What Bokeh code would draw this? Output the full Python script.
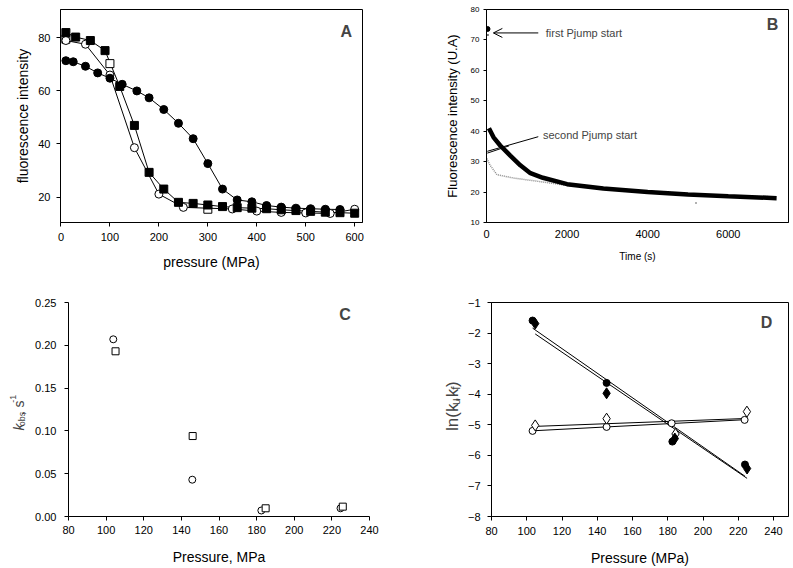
import numpy as np
from bokeh.plotting import figure
from bokeh.layouts import column, row
from bokeh.models import FixedTicker, Label, Arrow, OpenHead, NumeralTickFormatter
from bokeh.embed import file_html
from bokeh.resources import INLINE

FONT = "Liberation Sans"

# ---------------- Panel A data ----------------
a_fsq_x = [10, 30, 60, 90, 120, 150, 180, 210, 240, 270, 300, 330, 360, 390, 420, 450, 480, 510, 540, 570, 600]
a_fsq_y = [82, 80.3, 79, 75.2, 61.7, 47, 29.3, 23, 18, 17.6, 17.0, 16.4, 16.0, 15.8, 15.6, 15.2, 14.9, 14.6, 14.3, 14.1, 13.9]
a_fci_x = [10, 25, 50, 75, 100, 125, 155, 180, 210, 240, 270, 300, 330, 360, 390, 420, 450, 480, 510, 540, 570]
a_fci_y = [71.4, 71, 69.3, 66.8, 64.8, 62.5, 60, 57.4, 53, 47.8, 42, 32.6, 23, 18.9, 18.2, 16.8, 16.2, 15.8, 15.6, 15.4, 15.3]
a_osq_x = [10, 100, 300]
a_osq_y = [79.5, 70.3, 15.4]
a_oci_x = [10, 50, 100, 150, 200, 250, 350, 400, 450, 500, 550, 600]
a_oci_y = [79, 77.6, 66, 38.6, 21.1, 16.1, 15.5, 14.7, 14.2, 14.0, 13.8, 15.4]
a_xticks = [0, 100, 200, 300, 400, 500, 600]
a_yticks = [20, 40, 60, 80]

# ---------------- Panel B data ----------------
b_black_t = [60, 175, 340, 590, 840, 1090, 1400, 2000, 2900, 4000, 5000, 6000, 7200]
b_black_y = [41, 38, 35.3, 32, 28.8, 26.2, 24.7, 22.6, 21.2, 20.0, 19.2, 18.6, 18.0]
b_gray_t = [10, 90, 260, 680, 1350, 2000, 2500, 3000, 4000, 5000, 6000, 7000]
b_gray_y = [31, 28.8, 25.7, 24.6, 23.4, 22.2, 21.6, 21.0, 19.9, 19.2, 18.8, 18.5]
b_first_t = [25]
b_first_y = [73.6]
b_first_gray_t = [35]
b_first_gray_y = [71.6]
b_stray_t = [5200]
b_stray_y = [16.4]
b_xticks = [0, 2000, 4000, 6000]
b_yticks = [10, 20, 30, 40, 50, 60, 70, 80]
b_note1 = "first Pjump start"
b_note2 = "second Pjump start"

# ---------------- Panel C data ----------------
c_oci_x = [103.8, 145.8, 182.5, 224.6]
c_oci_y = [0.207, 0.043, 0.007, 0.0096]
c_osq_x = [105, 146, 184.8, 225.8]
c_osq_y = [0.193, 0.094, 0.0096, 0.0115]
c_xticks = [80, 100, 120, 140, 160, 180, 200, 220, 240]
c_yticks = [0.0, 0.05, 0.10, 0.15, 0.20, 0.25]

# ---------------- Panel D data ----------------
d_fci_x = [103.3, 145.3, 182.6, 223.8]
d_fci_y = [-1.59, -3.63, -5.55, -6.3]
d_fdi_x = [104.8, 145.3, 184.0, 225.0]
d_fdi_y = [-1.69, -3.97, -5.45, -6.43]
d_oci_x = [103.3, 145.3, 182.2, 223.6]
d_oci_y = [-5.2, -5.07, -4.95, -4.84]
d_odi_x = [104.8, 145.3, 184.4, 224.9]
d_odi_y = [-5.02, -4.80, -5.30, -4.57]
d_xticks = [80, 100, 120, 140, 160, 180, 200, 220, 240]
d_yticks = [-8, -7, -6, -5, -4, -3, -2, -1]

# rotated y-label pieces: (text, x, y of the piece's upper end, size, style)
c_label_pieces = [("k", 18, 163, "14px", "italic"),
                  ("obs", 21, 147, "9px", "normal"),
                  (", s", 18, 132, "14px", "normal"),
                  ("-1", 12, 124, "9px", "normal")]
d_label_pieces = [("ln(k", 52, 136, "17px", "normal"),
                  ("u", 55, 129, "12px", "normal"),
                  (",k", 52, 116, "17px", "normal"),
                  ("f", 55, 113, "12px", "normal"),
                  (")", 52, 106, "17px", "normal")]

ROW2_H = 288


def style(p, xticks, yticks, tick_size="11px", label_size="14px", outline=True):
    p.xgrid.visible = False
    p.ygrid.visible = False
    p.background_fill_color = "white"
    p.border_fill_color = "white"
    p.outline_line_color = "black" if outline else None
    p.outline_line_width = 1
    for ax in (p.xaxis[0], p.yaxis[0]):
        ax.axis_line_color = "black"
        ax.major_tick_line_color = "black"
        ax.minor_tick_line_color = None
        ax.major_tick_in = 0
        ax.major_tick_out = 4
        ax.major_label_text_font = FONT
        ax.major_label_text_font_size = tick_size
        ax.major_label_text_color = "black"
        ax.axis_label_text_font = FONT
        ax.axis_label_text_font_size = label_size
        ax.axis_label_text_font_style = "normal"
        ax.axis_label_text_color = "black"
    p.xaxis[0].ticker = FixedTicker(ticks=xticks)
    p.yaxis[0].ticker = FixedTicker(ticks=yticks)


def letter(p, txt, x, y):
    p.add_layout(Label(x=x, y=y, text=txt, text_font=FONT, text_font_size="16px",
                       text_font_style="bold", text_align="center", text_baseline="middle"))


def label_fig(width, height, pieces):
    f = figure(width=width, height=height, x_range=(0, width), y_range=(height, 0),
               output_backend="svg", toolbar_location=None,
               min_border=0, min_border_left=0, min_border_right=0,
               min_border_top=0, min_border_bottom=0,
               x_axis_location=None, y_axis_location=None)
    f.xgrid.visible = False
    f.ygrid.visible = False
    f.outline_line_color = None
    f.background_fill_color = "white"
    f.border_fill_color = "white"
    for txt, xx, yy, fs, st in pieces:
        f.add_layout(Label(x=xx, y=yy, text=txt, angle=np.pi / 2, text_font=FONT,
                           text_font_size=fs, text_font_style=st,
                           text_baseline="alphabetic", text_align="right"))
    return f


# ================= Panel A =================
pA = figure(width=400, height=280, x_range=(-1, 616), y_range=(10.4, 90.7),
            output_backend="svg", toolbar_location=None,
            min_border_left=60, min_border_right=38, min_border_top=4, min_border_bottom=58)
style(pA, a_xticks, a_yticks)
pA.xaxis.axis_label = "pressure (MPa)"
pA.yaxis.axis_label = "fluorescence intensity"
pA.yaxis.major_label_standoff = 6
pA.yaxis.axis_label_standoff = 4
pA.xaxis.major_label_standoff = 6
pA.xaxis.axis_label_standoff = 10
pA.line(a_fsq_x, a_fsq_y, line_color="black", line_width=1)
pA.line(a_oci_x, a_oci_y, line_color="black", line_width=1)
pA.line(a_fci_x, a_fci_y, line_color="black", line_width=1)
pA.scatter(a_osq_x, a_osq_y, marker="square", size=8, fill_color="white", line_color="black")
pA.scatter(a_oci_x, a_oci_y, marker="circle", size=8, fill_color="white", line_color="black")
pA.scatter(a_fsq_x, a_fsq_y, marker="square", size=8, fill_color="black", line_color="black")
pA.scatter(a_fci_x, a_fci_y, marker="circle", size=8, fill_color="black", line_color="black")
letter(pA, "A", 583, 82.5)

# ================= Panel B =================
pB = figure(width=392, height=280, x_range=(0, 7495), y_range=(10, 80),
            output_backend="svg", toolbar_location=None,
            min_border_left=86, min_border_right=4, min_border_top=9, min_border_bottom=53)
style(pB, b_xticks, b_yticks, tick_size="11px", label_size="13px")
pB.yaxis.major_label_text_font_size = "8px"
pB.yaxis.major_tick_out = 3
pB.xaxis.major_tick_out = 0
pB.yaxis.major_label_standoff = 4
pB.xaxis.major_label_standoff = 7
pB.xaxis.axis_label = "Time (s)"
pB.xaxis.axis_label_text_font_size = "10px"
pB.xaxis.axis_label_standoff = 10
pB.yaxis.axis_label = "Fluorescence intensity (U.A)"
pB.yaxis.axis_label_standoff = 8
pB.line(b_gray_t, b_gray_y, line_color="#888888", line_width=1.5, line_dash="1 1")
pB.line(b_black_t, b_black_y, line_color="black", line_width=4.5)
pB.scatter(b_first_t, b_first_y, marker="circle", size=5, fill_color="black", line_color="black")
pB.scatter(b_first_gray_t, b_first_gray_y, marker="circle", size=2, fill_color="#555555", line_color=None)
pB.scatter(b_stray_t, b_stray_y, marker="circle", size=2, fill_color="#999999", line_color=None)
pB.add_layout(Arrow(end=OpenHead(size=9, line_width=1), x_start=1285, y_start=72.3,
                    x_end=170, y_end=72.3, line_width=1))
pB.add_layout(Label(x=1470, y=72.3, text=b_note1, text_font=FONT, text_font_size="11px",
                    text_baseline="middle"))
pB.add_layout(Arrow(end=None, x_start=1285, y_start=38.2, x_end=20, y_end=33.4, line_width=1))
pB.add_layout(Arrow(end=None, x_start=560, y_start=35.2, x_end=20, y_end=32.8, line_width=1))
pB.add_layout(Label(x=1400, y=38.9, text=b_note2, text_font=FONT, text_font_size="11px",
                    text_baseline="middle"))
letter(pB, "B", 7100, 75.2)

# ================= Panel C =================
labC = label_fig(30, ROW2_H, c_label_pieces)
pC = figure(width=370, height=ROW2_H, x_range=(80, 240), y_range=(0, 0.25),
            output_backend="svg", toolbar_location=None,
            min_border_left=38, min_border_right=31, min_border_top=22, min_border_bottom=49)
style(pC, c_xticks, c_yticks, outline=False)
pC.yaxis.formatter = NumeralTickFormatter(format="0.00")
pC.yaxis.major_label_standoff = 8
pC.xaxis.major_label_standoff = 5
pC.xaxis.axis_label = "Pressure, MPa"
pC.xaxis.axis_label_standoff = 12
pC.scatter(c_oci_x, c_oci_y, marker="circle", size=7, fill_color="white", line_color="black")
pC.scatter(c_osq_x, c_osq_y, marker="square", size=7, fill_color="white", line_color="black")
letter(pC, "C", 227, 0.236)

# ================= Panel D =================
labD = label_fig(64, ROW2_H, d_label_pieces)
pD = figure(width=328, height=ROW2_H, x_range=(80, 248.5), y_range=(-8, -1),
            output_backend="svg", toolbar_location=None,
            min_border_left=23, min_border_right=4, min_border_top=17, min_border_bottom=52)
style(pD, d_xticks, d_yticks)
pD.yaxis.major_label_standoff = 7
pD.xaxis.major_label_standoff = 6
pD.xaxis.axis_label = "Pressure (MPa)"
pD.xaxis.axis_label_standoff = 12
for xs, ys in [(d_fci_x, d_fci_y), (d_fdi_x, d_fdi_y), (d_oci_x, d_oci_y), (d_odi_x, d_odi_y)]:
    k, b = np.polyfit(xs, ys, 1)
    x0, x1 = min(xs), max(xs)
    pD.line([x0, x1], [k * x0 + b, k * x1 + b], line_color="black", line_width=1)
pD.scatter(d_oci_x, d_oci_y, marker="circle", size=7, fill_color="white", line_color="black")
pD.scatter(d_odi_x, d_odi_y, marker="diamond", size=11, fill_color="white", line_color="black")
pD.scatter(d_fci_x, d_fci_y, marker="circle", size=7, fill_color="black", line_color="black")
pD.scatter(d_fdi_x, d_fdi_y, marker="diamond", size=11, fill_color="black", line_color="black")
letter(pD, "D", 236, -1.65)

layout = column(row(pA, pB), row(labC, pC, labD, pD))
open("out.html", "w").write(file_html(layout, INLINE))
